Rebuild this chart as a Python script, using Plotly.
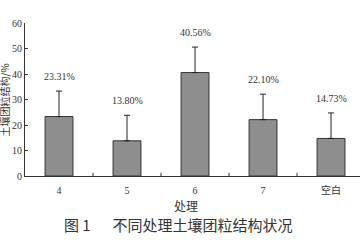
import plotly.graph_objects as go

categories = ["4", "5", "6", "7", "空白"]
values = [23.31, 13.80, 40.56, 22.10, 14.73]
errors = [10.0, 10.0, 10.0, 10.0, 10.0]
labels = ["23.31%", "13.80%", "40.56%", "22.10%", "14.73%"]
y_ticks = [0, 10, 20, 30, 40, 50, 60]

serif = "Liberation Serif, Times New Roman, DejaVu Serif, serif"
cjk = "Noto Sans CJK SC"

xs = list(range(len(categories)))

fig = go.Figure()
fig.add_trace(go.Bar(
    x=xs, y=values, width=0.41,
    marker=dict(color="#8e8e8e", line=dict(color="#333333", width=1)),
    error_y=dict(type="data", symmetric=False, array=errors,
                 arrayminus=[0] * len(errors), color="#222222",
                 thickness=1, width=3),
))

for xi, v, e, lab in zip(xs, values, errors, labels):
    fig.add_annotation(x=xi, y=v + e, text=lab, showarrow=False,
                       yanchor="bottom", yshift=7,
                       font=dict(family=serif, size=10, color="#333333"))

fig.add_annotation(xref="paper", yref="paper", x=-0.06, y=0.5,
                   text="土壤团粒结构/%", textangle=-90, showarrow=False,
                   xanchor="center", yanchor="middle",
                   font=dict(family=cjk, size=10, color="#333333"))

fig.add_annotation(xref="paper", yref="paper", x=0.48, y=-0.19,
                   text="处理", showarrow=False, xanchor="center", yanchor="middle",
                   font=dict(family=cjk, size=12, color="#333333"))

fig.add_annotation(xref="paper", yref="paper", x=0.458, y=-0.32,
                   text="图 1　  不同处理土壤团粒结构状况", showarrow=False,
                   xanchor="center", yanchor="middle",
                   font=dict(family=cjk, size=15, color="#333333"))

fig.update_layout(
    width=360, height=240,
    margin=dict(l=25, r=0, t=23, b=64),
    paper_bgcolor="white", plot_bgcolor="white",
    showlegend=False,
    xaxis=dict(range=[-0.5, 4.426], tickmode="array", tickvals=xs,
               ticktext=categories, showline=True, linecolor="#333333",
               linewidth=1, ticks="outside", ticklen=5,
               tickcolor="rgba(0,0,0,0)", showgrid=False, zeroline=False,
               tickfont=dict(family=serif + ", " + cjk, size=10, color="#333333")),
    yaxis=dict(range=[0, 60], tickvals=y_ticks, showline=True,
               linecolor="#333333", linewidth=1, ticks="inside", ticklen=3,
               tickcolor="#333333", showgrid=False, zeroline=False,
               tickfont=dict(family=serif, size=10, color="#333333")),
)

# category boundary ticks on the x axis
for b in [0.5, 1.5, 2.5, 3.5]:
    fig.add_shape(type="line", xref="x", yref="paper", x0=b, x1=b, y0=0, y1=0.02,
                  line=dict(color="#333333", width=1))

fig.write_html("out.html")
